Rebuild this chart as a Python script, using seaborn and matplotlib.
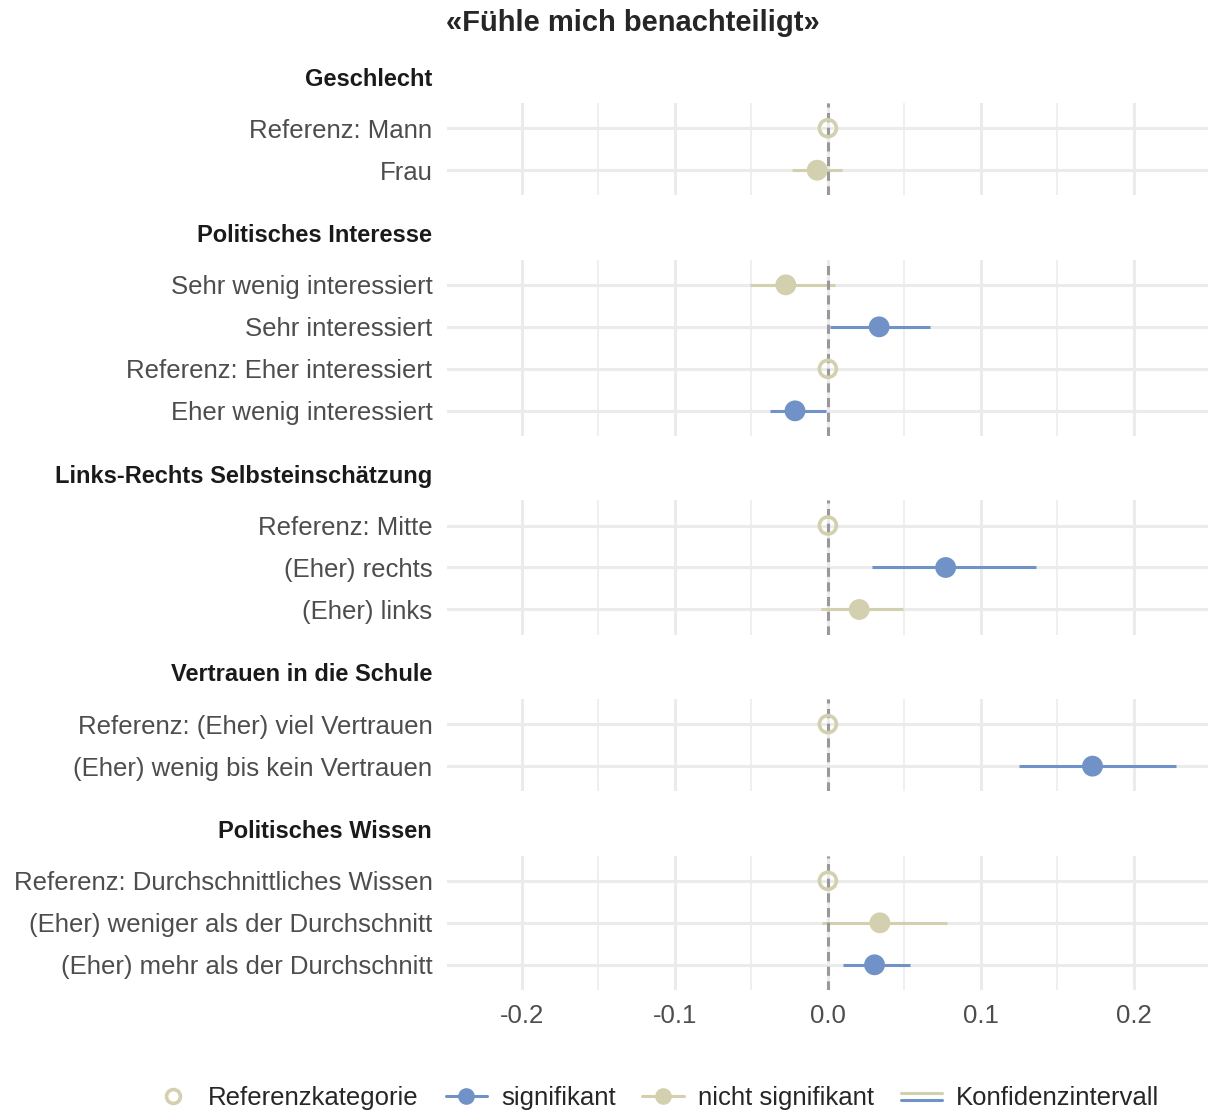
import numpy as np
import pandas as pd
import matplotlib
matplotlib.use("Agg")
import matplotlib.pyplot as plt
import seaborn as sns
from matplotlib.lines import Line2D
from matplotlib.legend_handler import HandlerBase

# --- data -------------------------------------------------------------------
groups = [
    "Geschlecht",
    "Politisches Interesse",
    "Links-Rechts Selbsteinschätzung",
    "Vertrauen in die Schule",
    "Politisches Wissen",
]
group = (["Geschlecht"] * 2 + ["Politisches Interesse"] * 4
         + ["Links-Rechts Selbsteinschätzung"] * 3
         + ["Vertrauen in die Schule"] * 2 + ["Politisches Wissen"] * 3)
category = [
    "Referenz: Mann", "Frau",
    "Sehr wenig interessiert", "Sehr interessiert",
    "Referenz: Eher interessiert", "Eher wenig interessiert",
    "Referenz: Mitte", "(Eher) rechts", "(Eher) links",
    "Referenz: (Eher) viel Vertrauen", "(Eher) wenig bis kein Vertrauen",
    "Referenz: Durchschnittliches Wissen",
    "(Eher) weniger als der Durchschnitt",
    "(Eher) mehr als der Durchschnitt",
]
estimate = [0.0, -0.007, -0.0275, 0.0335, 0.0, -0.0215, 0.0, 0.077, 0.0205,
            0.0, 0.173, 0.0, 0.034, 0.0305]
ci_low = [np.nan, -0.0235, -0.051, 0.0017, np.nan, -0.038, np.nan, 0.029,
          -0.0045, np.nan, 0.125, np.nan, -0.0037, 0.010]
ci_high = [np.nan, 0.0095, 0.0045, 0.067, np.nan, -0.0013, np.nan, 0.136,
           0.049, np.nan, 0.2275, np.nan, 0.078, 0.054]
status = ["ref", "ns", "ns", "sig", "ref", "sig", "ref", "sig", "ns",
          "ref", "sig", "ref", "ns", "sig"]

df = pd.DataFrame({"group": group, "category": category, "estimate": estimate,
                   "ci_low": ci_low, "ci_high": ci_high, "status": status})
df["pos"] = df.groupby("group").cumcount()

BLUE = "#7092C6"
BEIGE = "#D3D0B0"
palette = {"sig": BLUE, "ns": BEIGE, "ref": BEIGE}
GRID = "#EBEBEB"
TICK_COLOR = "#4D4D4D"

sns.set_style("white")
plt.rcParams["font.family"] = ["Liberation Sans", "DejaVu Sans"]

fig = plt.figure(figsize=(12.08, 11.12), dpi=100)
sizes = [int((df["group"] == g).sum()) for g in groups]
gs = fig.add_gridspec(len(groups), 1, height_ratios=[n + 0.2 for n in sizes],
                      left=447 / 1208, right=1.0,
                      top=1 - 103 / 1112, bottom=1 - 990 / 1112, hspace=0.51)

for i, g in enumerate(groups):
    ax = fig.add_subplot(gs[i])
    sub = df[df["group"] == g]
    n = len(sub)

    # confidence intervals
    ci = sub.dropna(subset=["ci_low"])
    ax.hlines(ci["pos"], ci["ci_low"], ci["ci_high"],
              colors=[palette[s] for s in ci["status"]], lw=2.2, zorder=2)

    ax.axvline(0, color="#999999", lw=2.2, ls=(0, (3, 1.8)), zorder=3)

    est = sub[sub["status"] != "ref"]
    sns.scatterplot(data=est, x="estimate", y="pos", hue="status",
                    palette=palette, s=225, edgecolor="none", legend=False,
                    ax=ax, zorder=4)
    ref = sub[sub["status"] == "ref"]
    sns.scatterplot(data=ref, x="estimate", y="pos", s=150, color=BEIGE,
                    facecolor="none", edgecolor=BEIGE, linewidth=2.6,
                    legend=False, ax=ax, zorder=4)

    ax.set_xlim(-0.249, 0.2485)
    ax.set_ylim(n - 1 + 0.6, -0.6)
    ax.set_yticks(range(n))
    ax.set_yticklabels(sub["category"])
    ax.set_xticks([-0.2, -0.1, 0.0, 0.1, 0.2])
    ax.set_xticks([-0.15, -0.05, 0.05, 0.15], minor=True)
    ax.set_xticklabels(["-0.2", "-0.1", "0.0", "0.1", "0.2"])
    ax.grid(which="major", color=GRID, lw=2.2, zorder=0)
    ax.grid(which="minor", axis="x", color=GRID, lw=1.1, zorder=0)
    ax.set_axisbelow(True)
    ax.set_xlabel("")
    ax.set_ylabel("")
    for sp in ax.spines.values():
        sp.set_visible(False)
    ax.tick_params(which="both", length=0, labelsize=18.5,
                   labelcolor=TICK_COLOR)
    ax.tick_params(axis="y", pad=10.5)
    ax.tick_params(axis="x", pad=10)
    if i < len(groups) - 1:
        ax.tick_params(axis="x", labelbottom=False)

    ax.annotate(g, xy=(0, 1), xycoords="axes fraction", xytext=(-15, 24),
                textcoords="offset pixels", ha="right", va="center",
                fontsize=17, fontweight="bold", color="#1A1A1A")

fig.text(633 / 1208, 1 - 23 / 1112, "«Fühle mich benachteiligt»",
         ha="center", va="center", fontsize=21, fontweight="bold")


# legend -----------------------------------------------------------------
class CIKey:
    pass


class CIKeyHandler(HandlerBase):
    def create_artists(self, legend, orig_handle, xdescent, ydescent,
                       width, height, fontsize, trans):
        x0, x1 = -xdescent, -xdescent + width
        top = Line2D([x0, x1], [-ydescent + height * 0.68] * 2,
                     color=BEIGE, lw=2.2, transform=trans)
        bot = Line2D([x0, x1], [-ydescent + height * 0.28] * 2,
                     color=BLUE, lw=2.2, transform=trans)
        return [top, bot]


handles = [
    Line2D([], [], ls="none", marker="o", markersize=10,
           markerfacecolor="none", markeredgecolor=BEIGE,
           markeredgewidth=2.6),
    Line2D([], [], color=BLUE, lw=2.2, marker="o", markersize=12,
           markeredgecolor="none"),
    Line2D([], [], color=BEIGE, lw=2.2, marker="o", markersize=12,
           markeredgecolor="none"),
    CIKey(),
]
labels = ["Referenzkategorie", "signifikant", "nicht signifikant",
          "Konfidenzintervall"]
fig.legend(handles=handles, labels=labels, loc="center",
           bbox_to_anchor=(656 / 1208, 1 - 1098 / 1112), ncol=4,
           frameon=False, fontsize=18.5, handlelength=1.6,
           handletextpad=0.55, columnspacing=1.05,
           handler_map={CIKey: CIKeyHandler()})

fig.savefig("out.png", dpi=100)
